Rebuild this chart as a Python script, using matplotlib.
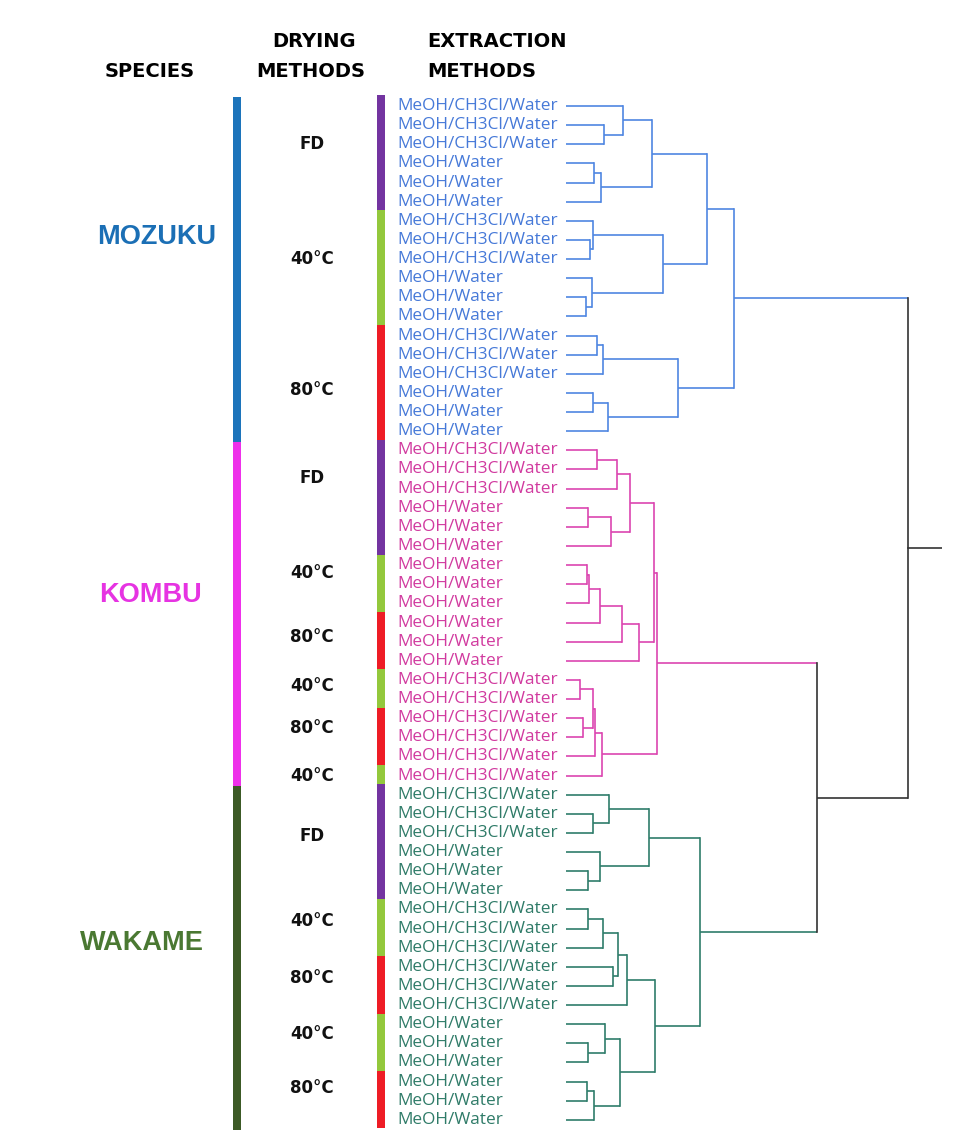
import matplotlib
matplotlib.use("Agg")
import matplotlib.pyplot as plt

# --- data -------------------------------------------------------------
species = ['MOZUKU', 'KOMBU', 'WAKAME']
species_counts = [18, 18, 18]

drying_labels = ['FD', '40°C', '80°C',
                 'FD', '40°C', '80°C', '40°C', '80°C', '40°C',
                 'FD', '40°C', '80°C', '40°C', '80°C']
drying_counts = [6, 6, 6,
                 6, 3, 3, 2, 3, 1,
                 6, 3, 3, 3, 3]

# C = MeOH/CH3Cl/Water, W = MeOH/Water (leaf order top to bottom)
extraction_codes = ('CCCWWWCCCWWWCCCWWW'
                    'CCCWWWWWWWWWCCCCCC'
                    'CCCWWWCCCCCCWWWWWW')
extraction_names = {'C': 'MeOH/CH3Cl/Water', 'W': 'MeOH/Water'}

# merges: (left, right, distance); ids >= 54 are earlier merges
linkage = [
    # mozuku
    (1, 2, 1.10), (0, 54, 1.67), (3, 4, 0.83), (56, 5, 1.02), (55, 57, 2.51),
    (7, 8, 0.70), (6, 59, 0.78), (10, 11, 0.58), (9, 61, 0.75), (60, 62, 2.84),
    (58, 63, 4.12), (12, 13, 0.91), (65, 14, 1.07), (15, 16, 0.78), (67, 17, 1.22),
    (66, 68, 3.27), (64, 69, 4.91),
    # kombu
    (18, 19, 0.90), (71, 20, 1.50), (21, 22, 0.65), (73, 23, 1.32), (72, 74, 1.87),
    (24, 25, 0.61), (76, 26, 0.66), (77, 27, 0.99), (78, 28, 1.65), (79, 29, 2.13),
    (75, 80, 2.56), (30, 31, 0.41), (32, 33, 0.51), (82, 83, 0.79), (84, 34, 0.85),
    (85, 35, 1.05), (81, 86, 2.66),
    # wakame
    (37, 38, 0.78), (36, 88, 1.27), (40, 41, 0.65), (39, 90, 0.99), (89, 91, 2.44),
    (42, 43, 0.65), (93, 44, 1.07), (45, 46, 1.37), (94, 95, 1.53), (96, 47, 1.79),
    (49, 50, 0.65), (48, 98, 1.14), (51, 52, 0.60), (100, 53, 0.83), (99, 101, 1.58),
    (97, 102, 2.60), (92, 103, 3.92),
    # between species
    (87, 104, 7.34), (70, 105, 10.0),
]

# --- style ------------------------------------------------------------
W, H = 964, 1142
row0, row_h = 106, 19.13          # pixel y of first leaf, leaf spacing
species_bar_col = ['#1c74bb', '#ee30ea', '#3c5a26']
species_txt_col = ['#1b6fb5', '#e633e2', '#4a7832']
species_txt_x = [157, 150, 142]
species_txt_shift = [-1.65, -0.95, -0.75]
line_col = ['#4f86e2', '#dc45b0', '#2f7d6b']
leaf_txt_col = ['#4679d8', '#d13a9f', '#2f7b68']
top_col = '#333333'
drying_col = {'FD': '#7334a0', '40°C': '#93c83c', '80°C': '#ee1c25'}
drying_shift = [-0.5, -0.5, 0.35,
                -1.05, -0.6, -0.25, -0.2, -0.5, 0.0,
                -0.35, -0.4, -0.4, -0.5, -0.65]

n_leaves = len(extraction_codes)
ylim = ((H - row0) / row_h, -row0 / row_h)

fig = plt.figure(figsize=(W / 100, H / 100), dpi=100)
ax = fig.add_axes([0, 0, 1, 1])
ax.set_xlim(0, W)
ax.set_ylim(*ylim)
ax.axis('off')

# headers
hdr = dict(fontsize=14, fontweight='bold', color='black', family='DejaVu Sans',
           va='center')
ax.text(150, -1.8, 'SPECIES', ha='center', **hdr)
ax.text(314, -3.35, 'DRYING', ha='center', **hdr)
ax.text(311, -1.8, 'METHODS', ha='center', **hdr)
ax.text(427, -3.35, 'EXTRACTION', ha='left', **hdr)
ax.text(427, -1.8, 'METHODS', ha='left', **hdr)

# species bar + labels
start = 0
for i, (name, cnt) in enumerate(zip(species, species_counts)):
    ax.bar(237, cnt, bottom=start - 0.45, width=7.5, color=species_bar_col[i],
           linewidth=0)
    ax.text(species_txt_x[i], start + (cnt - 1) / 2 + species_txt_shift[i], name,
            ha='center', va='center', fontsize=19.5, fontweight='bold',
            family='Liberation Sans', color=species_txt_col[i])
    start += cnt

# drying bar + labels
start = 0
for i, (lab, cnt) in enumerate(zip(drying_labels, drying_counts)):
    ax.bar(381, cnt, bottom=start - 0.55, width=8, color=drying_col[lab],
           linewidth=0)
    ax.text(312, start + (cnt - 1) / 2 + drying_shift[i], lab, ha='center',
            va='center', fontsize=12, fontweight='bold', family='DejaVu Sans',
            color='#111111')
    start += cnt

# leaf labels
for i, code in enumerate(extraction_codes):
    ax.text(397, i, extraction_names[code], ha='left', va='center',
            fontsize=12.4, family='Open Sans', color=leaf_txt_col[i // 18])

# --- dendrogram -------------------------------------------------------
x0, x1 = 566, 942
root_h = linkage[-1][2]
stub = 0.99
dax = fig.add_axes([x0 / W, 0, (x1 - x0) / W, 1])
dax.set_xlim(0, root_h + stub)
dax.set_ylim(*ylim)
dax.axis('off')

ypos = {i: float(i) for i in range(n_leaves)}
hpos = {i: 0.0 for i in range(n_leaves)}
col = {i: line_col[i // 18] for i in range(n_leaves)}
lw = 1.2
for k, (a, b, h) in enumerate(linkage):
    node = n_leaves + k
    ypos[node] = (ypos[a] + ypos[b]) / 2
    hpos[node] = h
    col[node] = col[a] if col[a] == col[b] else top_col
    dax.plot([hpos[a], h], [ypos[a], ypos[a]], color=col[a], lw=lw,
             solid_capstyle='butt')
    dax.plot([hpos[b], h], [ypos[b], ypos[b]], color=col[b], lw=lw,
             solid_capstyle='butt')
    dax.plot([h, h], [ypos[a], ypos[b]], color=col[node], lw=lw,
             solid_capstyle='projecting')

root = n_leaves + len(linkage) - 1
dax.plot([root_h, root_h + stub], [ypos[root], ypos[root]], color=top_col, lw=lw)

fig.savefig('out.png', dpi=100)
